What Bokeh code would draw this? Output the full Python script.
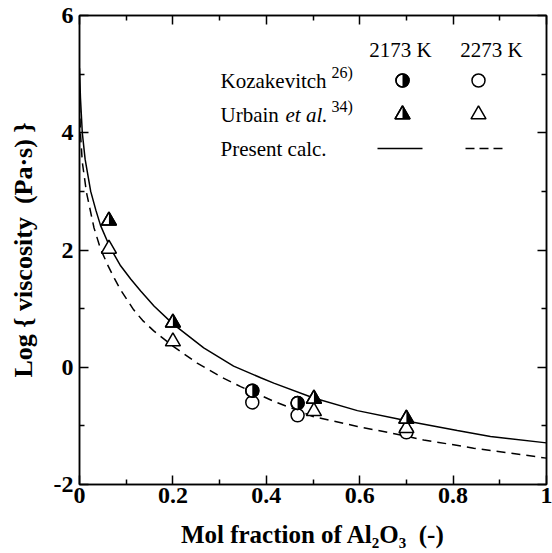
import math
from bokeh.plotting import figure
from bokeh.models import LinearAxis, FixedTicker, Range1d, Label
from bokeh.embed import file_html
from bokeh.resources import INLINE

# ---------------- data ----------------
calc_x_2173 = [0.0, 0.002, 0.006, 0.012, 0.024, 0.035, 0.045, 0.065, 0.088, 0.11, 0.131, 0.16,
               0.20, 0.266, 0.33, 0.388, 0.416, 0.50, 0.595, 0.68, 0.709, 0.809, 0.88, 1.0]
calc_y_2173 = [5.1, 4.6, 4.0, 3.55, 3.0, 2.68, 2.42, 2.05, 1.73, 1.50, 1.30, 1.04,
               0.74, 0.33, 0.02, -0.18, -0.27, -0.52, -0.74, -0.88, -0.93, -1.08, -1.18, -1.29]
calc_x_2273 = [0.0, 0.002, 0.006, 0.015, 0.031, 0.045, 0.06, 0.075, 0.088, 0.116, 0.135, 0.159,
               0.20, 0.252, 0.302, 0.345, 0.416, 0.50, 0.595, 0.666, 0.737, 0.844, 1.0]
calc_y_2273 = [4.5, 4.0, 3.5, 2.98, 2.38, 2.02, 1.75, 1.51, 1.32, 0.98, 0.80, 0.62,
               0.36, 0.07, -0.16, -0.33, -0.58, -0.84, -1.01, -1.12, -1.24, -1.38, -1.55]

koz_x_2173 = [0.37, 0.467]
koz_y_2173 = [-0.40, -0.61]
koz_x_2273 = [0.37, 0.467, 0.70]
koz_y_2273 = [-0.60, -0.82, -1.11]

urb_x_2173 = [0.063, 0.20, 0.502, 0.70]
urb_y_2173 = [2.50, 0.76, -0.54, -0.88]
urb_x_2273 = [0.063, 0.20, 0.502, 0.70]
urb_y_2273 = [2.02, 0.44, -0.75, -1.04]

x_ticks = [0, 0.2, 0.4, 0.6, 0.8, 1.0]
x_tick_labels = ["0", "0.2", "0.4", "0.6", "0.8", "1"]
x_minor = [0.1, 0.3, 0.5, 0.7, 0.9]
y_ticks = [-2, 0, 2, 4, 6]
y_tick_labels = ["-2", "0", "2", "4", "6"]
y_minor = [-1, 1, 3, 5]

temps = ["2173 K", "2273 K"]
sources = ["Kozakevitch", "Urbain", "Present calc."]
x_title = "Mol fraction of Al\u2082O\u2083 \u00a0(-)"
y_title = "Log { viscosity \u00a0(Pa\u00b7s) }"

# ---------------- layout ----------------
FL, FR, FT, FB = 79, 546, 15, 484
FW, FH = FR - FL, FB - FT
X0, X1, Y0, Y1 = 0.0, 1.0, -2.0, 6.0
PX_X = FW / (X1 - X0)
PX_Y = FH / (Y1 - Y0)


def dx(px):  # canvas pixel -> data x
    return X0 + (px - FL) / PX_X


def dy(py):  # canvas pixel -> data y
    return Y0 + (FB - py) / PX_Y


SERIF = "Liberation Serif"

p = figure(frame_width=FW, frame_height=FH, output_backend="svg", toolbar_location=None,
           x_range=Range1d(X0, X1), y_range=Range1d(Y0, Y1),
           min_border_left=FL, min_border_right=552 - FR, min_border_top=FT,
           min_border_bottom=553 - FB)
p.grid.visible = False
p.outline_line_color = "black"
p.outline_line_width = 1.5
p.background_fill_color = "white"
p.border_fill_color = "white"


def style_axis(ax, ticks, minor, labels, show_labels):
    ax.ticker = FixedTicker(ticks=ticks, minor_ticks=minor)
    ax.major_tick_in = 9
    ax.major_tick_out = 0
    ax.minor_tick_in = 5
    ax.minor_tick_out = 0
    ax.major_tick_line_width = 1.5
    ax.minor_tick_line_width = 1.5
    ax.axis_line_width = 1.5
    ax.major_tick_line_color = "black"
    ax.minor_tick_line_color = "black"
    ax.axis_line_color = "black"
    if show_labels:
        ax.major_label_overrides = {t: l for t, l in zip(ticks, labels)}
        ax.major_label_text_font = SERIF
        ax.major_label_text_font_style = "bold"
        ax.major_label_text_font_size = "24px"
        ax.major_label_text_color = "black"
    else:
        ax.major_label_text_font_size = "1px"
        ax.major_label_text_color = None
        ax.major_label_standoff = 0


xa = p.xaxis[0]
ya = p.yaxis[0]
style_axis(xa, x_ticks, x_minor, x_tick_labels, True)
style_axis(ya, y_ticks, y_minor, y_tick_labels, True)
xa.major_label_standoff = 3
ya.major_label_standoff = 6

for ax, title, standoff in ((ya, y_title, 13), (xa, x_title, 15)):
    ax.axis_label = title
    ax.axis_label_text_font = SERIF
    ax.axis_label_text_font_style = "bold"
    ax.axis_label_text_font_size = "26px" if ax is ya else "25px"
    ax.axis_label_text_color = "black"
    ax.axis_label_standoff = standoff

top = LinearAxis()
style_axis(top, x_ticks, x_minor, x_tick_labels, False)
p.add_layout(top, "above")
right = LinearAxis()
style_axis(right, y_ticks, y_minor, y_tick_labels, False)
p.add_layout(right, "right")

# ---------------- curves ----------------
p.line(calc_x_2173, calc_y_2173, line_color="black", line_width=1.5)
p.line(calc_x_2273, calc_y_2273, line_color="black", line_width=1.5, line_dash="9 6")

# ---------------- markers ----------------
CS = 13   # circle marker size (px)
TS = 15   # triangle marker size (px)


def open_circles(xs, ys):
    p.scatter(xs, ys, marker="circle", size=CS, fill_color="white",
              line_color="black", line_width=1.5)


def half_circles(xs, ys):
    open_circles(xs, ys)
    p.wedge(xs, ys, radius=CS / 2, radius_units="screen", start_angle=-math.pi / 2,
            end_angle=math.pi / 2, fill_color="black", line_color=None)
    p.scatter(xs, ys, marker="circle", size=CS, fill_color=None,
              line_color="black", line_width=1.5)


def open_triangles(xs, ys):
    p.scatter(xs, ys, marker="triangle", size=TS, fill_color="white",
              line_color="black", line_width=1.5)


def half_triangles(xs, ys):
    open_triangles(xs, ys)
    r = TS / 2
    h = r * math.sqrt(3)
    a = h / 3
    px_list, py_list = [], []
    for x, y in zip(xs, ys):
        px_list.append([x, x + r / PX_X, x])
        py_list.append([y - a / PX_Y, y - a / PX_Y, y + (h - a) / PX_Y])
    p.patches(px_list, py_list, fill_color="black", line_color=None)
    p.scatter(xs, ys, marker="triangle", size=TS, fill_color=None,
              line_color="black", line_width=1.5)


open_circles(koz_x_2273, koz_y_2273)
half_circles(koz_x_2173, koz_y_2173)
open_triangles(urb_x_2273, urb_y_2273)
half_triangles(urb_x_2173, urb_y_2173)

# ---------------- legend (drawn as a small table) ----------------
ROW_HEAD, ROW_KOZ, ROW_URB, ROW_CALC = 49, 80, 114, 148
COL1, COL2 = 402, 478
TEXT_X = 220


def lab(px, py, text, size="21px", style="normal", align="left", baseline="middle"):
    p.add_layout(Label(x=dx(px), y=dy(py), text=text, text_font=SERIF,
                       text_font_size=size, text_font_style=style, text_color="black",
                       text_align=align, text_baseline=baseline))


lab(400, ROW_HEAD, temps[0], align="center")
lab(491, ROW_HEAD, temps[1], align="center")
lab(TEXT_X, ROW_KOZ, sources[0])
lab(331, ROW_KOZ - 8, "26)", size="16px")
lab(TEXT_X, ROW_URB, sources[1])
lab(285, ROW_URB, "et al.", style="italic")
lab(331, ROW_URB - 8, "34)", size="16px")
lab(TEXT_X, ROW_CALC, sources[2])

half_circles([dx(COL1)], [dy(ROW_KOZ)])
open_circles([dx(COL2)], [dy(ROW_KOZ)])
half_triangles([dx(COL1)], [dy(ROW_URB)])
open_triangles([dx(COL2)], [dy(ROW_URB)])
p.line([dx(377), dx(422)], [dy(ROW_CALC), dy(ROW_CALC)], line_color="black", line_width=1.5)
p.line([dx(465), dx(502)], [dy(ROW_CALC), dy(ROW_CALC)], line_color="black", line_width=1.5,
       line_dash="9 5")

open("out.html", "w").write(file_html(p, INLINE))
